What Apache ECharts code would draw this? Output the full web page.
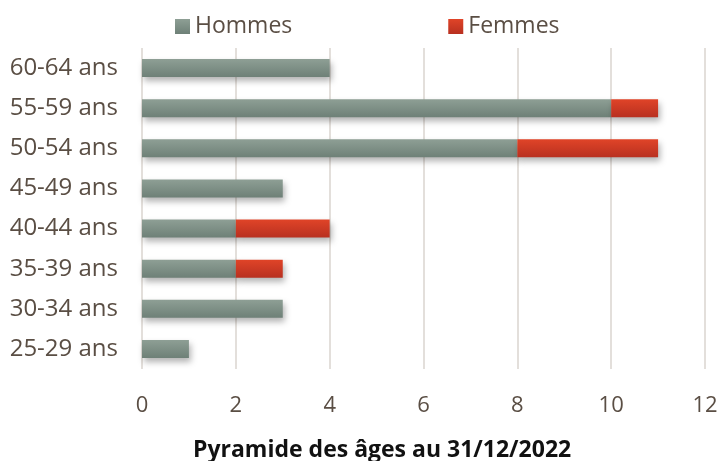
<!DOCTYPE html>
<html><head><meta charset="utf-8">
<script src="https://cdn.jsdelivr.net/npm/echarts@6/dist/echarts.min.js"></script>
<style>html,body{margin:0;padding:0;background:#fff}#c{width:721px;height:461px}</style>
</head><body><div id="c"></div>
<script>
const categories = ['25-29 ans','30-34 ans','35-39 ans','40-44 ans','45-49 ans','50-54 ans','55-59 ans','60-64 ans'];
const hommes = [1,3,2,2,3,8,10,4];
const femmes = [0,0,1,2,0,3,1,0];
const xTicks = {min:0, max:12, interval:2};
const title = 'Pyramide des âges au 31/12/2022';

const FONT = '"Open Sans", sans-serif';
const TXT = '#5a4e44';
const grad = (a,b) => new echarts.graphic.LinearGradient(0,0,0,1,[{offset:0,color:a},{offset:1,color:b}]);
const shadow = {shadowColor:'rgba(0,0,0,0.3)', shadowBlur:6, shadowOffsetX:2, shadowOffsetY:4};
const chart = echarts.init(document.getElementById('c'), null, {renderer:'canvas'});
chart.setOption({
  animation:false,
  title:{text:title, left:188, top:434, textStyle:{fontFamily:FONT, fontSize:23, fontWeight:'bold', color:'#111'}},
  legend:{top:10, left:170, itemGap:156, itemWidth:15, itemHeight:15, icon:'rect',
    textStyle:{fontFamily:FONT, fontSize:23, color:TXT},
    data:[{name:'Hommes', itemStyle:{color:grad('#8e9f95','#6e8077')}},{name:'Femmes', itemStyle:{color:grad('#e04428','#b83020')}}]},
  grid:{left:142, right:16, top:48, bottom:92, containLabel:false},
  xAxis:{type:'value', min:xTicks.min, max:xTicks.max, interval:xTicks.interval,
    axisLine:{show:false}, axisTick:{show:false},
    axisLabel:{fontFamily:FONT, fontSize:22, color:TXT, margin:26},
    splitLine:{lineStyle:{color:'#e3dfdb', width:2}}},
  yAxis:{type:'category', data:categories,
    axisLine:{show:false}, axisTick:{show:false},
    axisLabel:{fontFamily:FONT, fontSize:24, color:TXT, margin:24}},
  series:[
    {name:'Hommes', type:'bar', stack:'s', data:hommes, barWidth:'45%',
      itemStyle:Object.assign({color:grad('#8e9f95','#6e8077')}, shadow)},
    {name:'Femmes', type:'bar', stack:'s', data:femmes, barWidth:'45%',
      itemStyle:Object.assign({color:grad('#e04428','#b83020')}, shadow)}
  ]
});
</script></body></html>
